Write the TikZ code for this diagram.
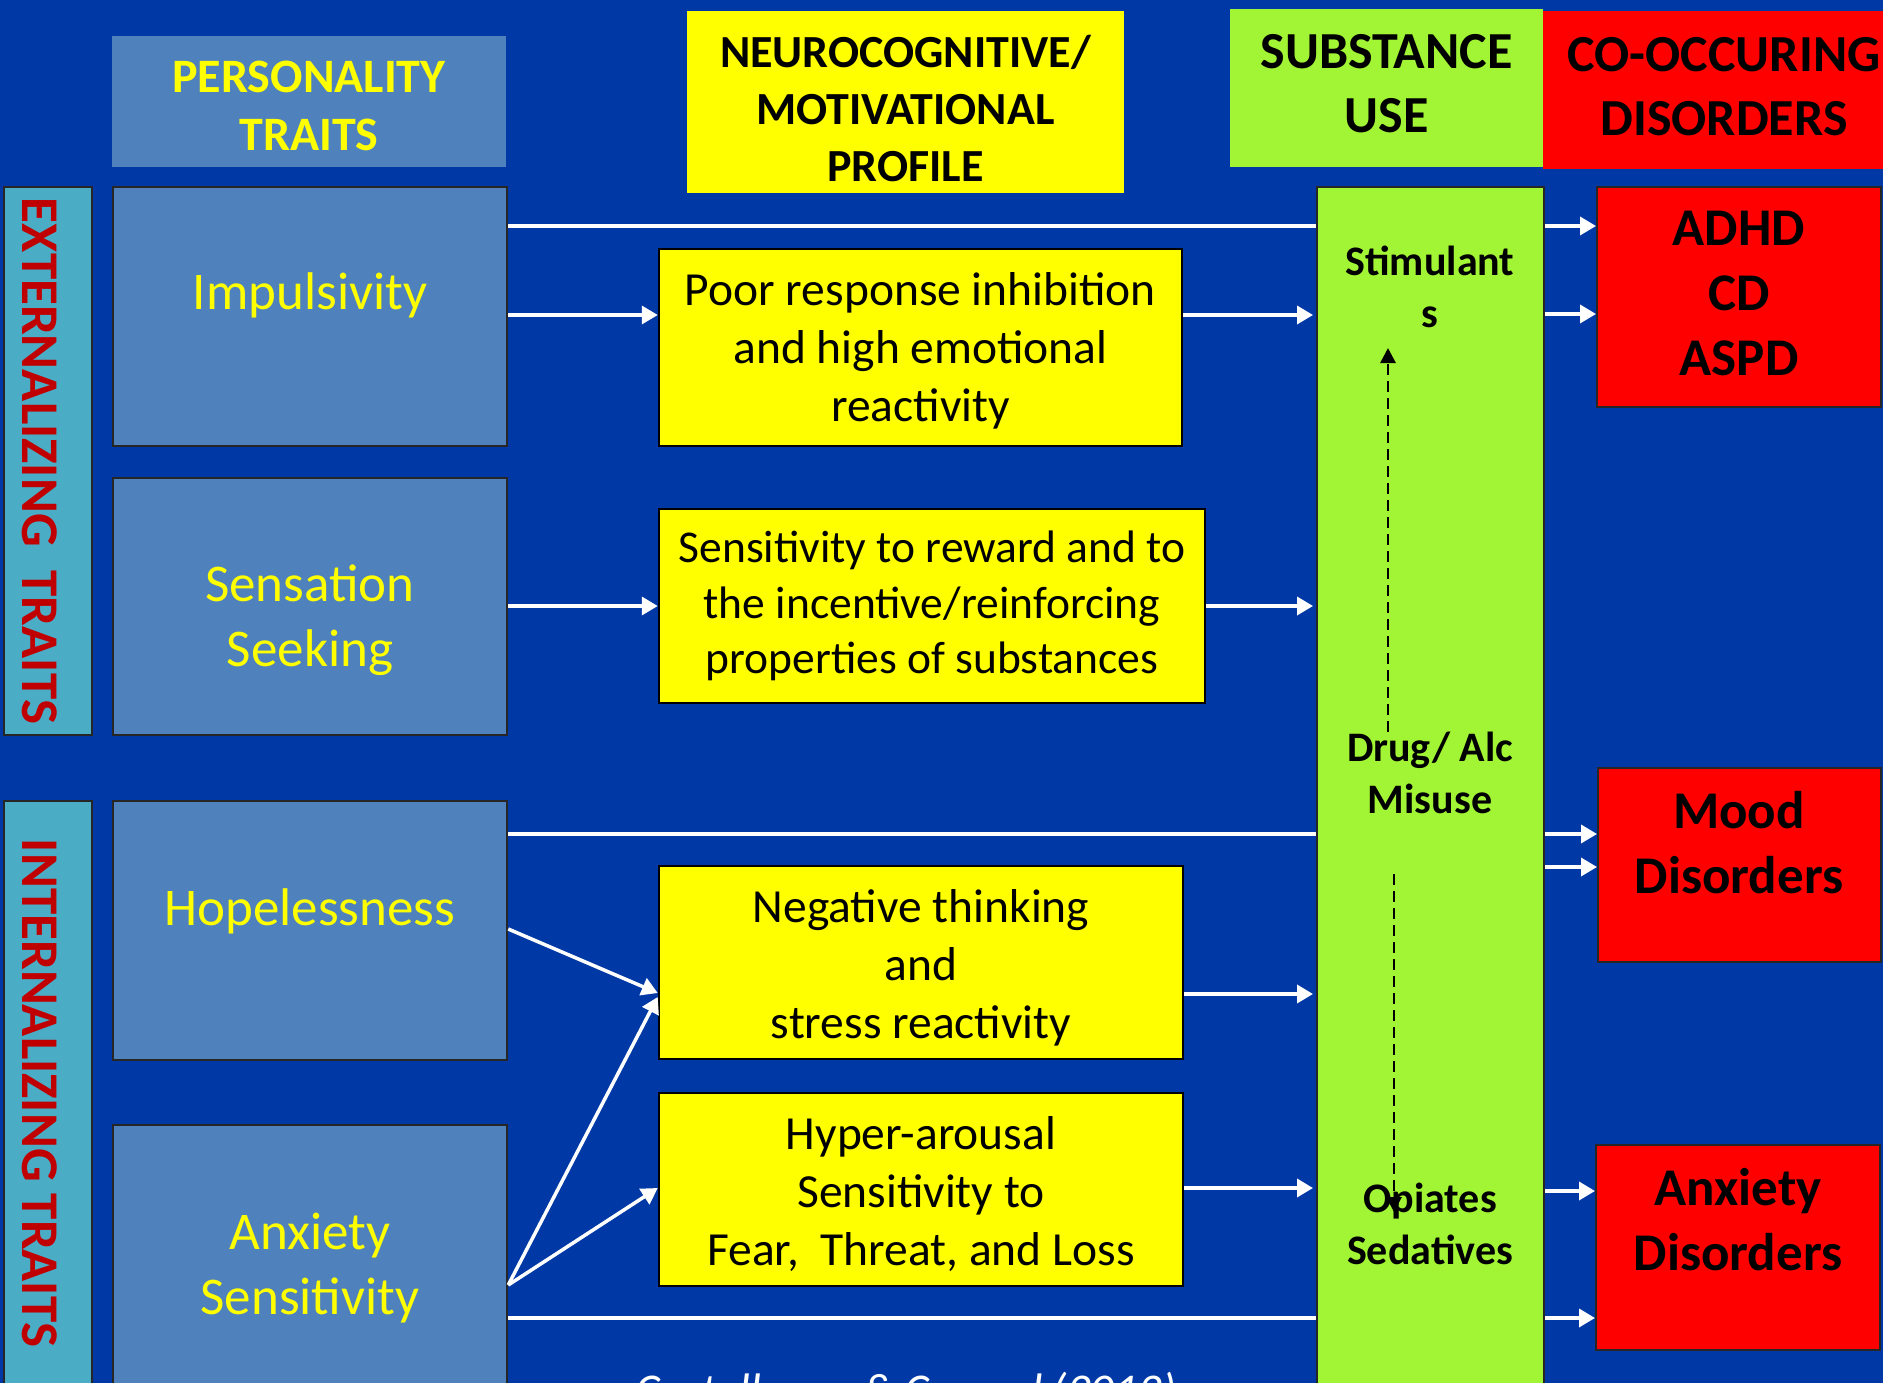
\documentclass[tikz,border=0pt]{standalone}
\usepackage{fontspec}
\setmainfont{Carlito}
\usetikzlibrary{arrows.meta}
\definecolor{bgblue}{RGB}{0,57,166}
\definecolor{steel}{RGB}{79,129,189}
\definecolor{tealbar}{RGB}{75,172,198}
\definecolor{ylw}{RGB}{255,255,0}
\definecolor{lime}{RGB}{162,245,52}
\definecolor{redbox}{RGB}{255,0,0}
\definecolor{darkred}{RGB}{192,0,0}
\pgfdeclarelayer{bg}
\pgfdeclarelayer{lines}
\pgfsetlayers{bg,lines,main}
\tikzset{
  box/.style={rectangle, inner sep=0pt},
  txt/.style={inner sep=0pt, align=center},
  headtext/.style={txt, font=\bfseries\fontsize{52}{64}\selectfont},
  sidebar/.style={box, fill=tealbar, draw=black!85, line width=2pt},
  sidetext/.style={inner sep=0pt, text=darkred, font=\bfseries\fontsize{53}{60}\selectfont},
  trait/.style={box, fill=steel, draw=black!85, line width=2.5pt},
  traittext/.style={txt, text=ylw, font=\fontsize{53}{65}\selectfont},
  profile/.style={box, fill=ylw, draw=black, line width=2.5pt},
  proftext/.style={txt, font=\fontsize{47.5}{58}\selectfont},
  disorder/.style={box, fill=redbox, draw=black!85, line width=2pt},
  distext/.style={txt, font=\bfseries\fontsize{53}{65}\selectfont},
  subtext/.style={txt, font=\bfseries\fontsize{42}{52}\selectfont},
  wline/.style={draw=white, line width=3.5pt, -{Triangle[length=16pt,width=18pt]}},
  dline/.style={draw=black, line width=2.8pt, dash pattern=on 11pt off 6pt, -{Triangle[length=15pt,width=15pt]}}
}
\begin{document}
\begin{tikzpicture}[x=1pt,y=-1pt]
\useasboundingbox (0,0) rectangle (1883,1383);
\begin{pgfonlayer}{bg}
\fill[bgblue] (0,0) rectangle (1883,1383);
\end{pgfonlayer}

% headers
\node[box, fill=steel, minimum width=394, minimum height=131] (ptH) at (309,101.5) {};
\node[headtext, text=ylw, font=\bfseries\fontsize{48}{58}\selectfont] (ptT) at (309,105.5) {PERSONALITY\\TRAITS};
\node[box, fill=ylw, minimum width=437, minimum height=182] (neuroH) at (905.5,102) {};
\node[headtext, font=\bfseries\fontsize{46}{57}\selectfont] (neuroT) at (905.5,109) {NEUROCOGNITIVE/\\MOTIVATIONAL\\PROFILE};
\node[box, fill=lime, minimum width=313, minimum height=158] (substH) at (1386.5,88) {};
\node[headtext] (substT) at (1386.5,84) {SUBSTANCE\\USE};
\node[box, fill=redbox, minimum width=362, minimum height=158] (coH) at (1724,90) {};
\node[headtext] (coT) at (1724,87) {CO-OCCURING\\DISORDERS};

% side bars
\node[sidebar, minimum width=88, minimum height=548] (extBar) at (48,461) {};
\node[sidetext, rotate=-90] (extT) at (39.5,461) {EXTERNALIZING\ \ TRAITS};
\node[sidebar, minimum width=88, minimum height=599] (intBar) at (48,1100.5) {};
\node[sidetext, rotate=-90] (intT) at (39.5,1093) {INTERNALIZING TRAITS};

% trait boxes
\node[trait, minimum width=394, minimum height=259] (imp) at (310,316.5) {};
\node[traittext] (impT) at (310,295) {Impulsivity};
\node[trait, minimum width=394, minimum height=257] (sens) at (310,606.5) {};
\node[traittext] (sensT) at (310,620.5) {Sensation\\Seeking};
\node[trait, minimum width=394, minimum height=259] (hope) at (310,930.5) {};
\node[traittext] (hopeT) at (310,911) {Hopelessness};
\node[trait, minimum width=394, minimum height=275] (anx) at (310,1262.5) {};
\node[traittext] (anxT) at (310,1268.5) {Anxiety\\Sensitivity};

% profile boxes
\node[profile, minimum width=523, minimum height=197] (poor) at (920.5,347.5) {};
\node[proftext] (poorT) at (920.5,350.5) {Poor response inhibition\\and high emotional\\reactivity};
\node[profile, minimum width=546, minimum height=194] (reward) at (932,606) {};
\node[proftext, font=\fontsize{45.5}{55.5}\selectfont] (rewardT) at (932,606) {Sensitivity to reward and to\\the incentive/reinforcing\\properties of substances};
\node[profile, minimum width=524, minimum height=193] (neg) at (921,962.5) {};
\node[proftext] (negT) at (921,967.5) {Negative thinking\\and\\stress reactivity};
\node[profile, minimum width=524, minimum height=193] (hyper) at (921,1189.5) {};
\node[proftext] (hyperT) at (921,1194.5) {Hyper-arousal\\Sensitivity to\\Fear,~ Threat, and Loss};

% substance column
\node[box, fill=lime, draw=black!85, line width=2pt, minimum width=227, minimum height=1213] (green) at (1430.5,793.5) {};
\node[subtext] (stimT) at (1430,287) {Stimulant\\s};
\node[subtext] (drugT) at (1430,773) {Drug/ Alc\\Misuse};
\node[subtext] (opT) at (1430,1224) {Opiates\\Sedatives};

% disorder boxes
\node[disorder, minimum width=284, minimum height=220] (adhd) at (1739,297) {};
\node[distext] (adhdT) at (1739,293) {ADHD\\CD\\ASPD};
\node[disorder, minimum width=283, minimum height=194] (mood) at (1739.5,865) {};
\node[distext] (moodT) at (1739,843) {Mood\\Disorders};
\node[disorder, minimum width=284, minimum height=205] (anxd) at (1738,1247.5) {};
\node[distext] (anxdT) at (1738,1220) {Anxiety\\Disorders};

% citation (cut off by the lower edge, as in the original)
\node[inner sep=0pt, anchor=base, text=white, font=\itshape\fontsize{47}{56}\selectfont] (cite) at (906,1406) {Castellanos \& Conrod (2012)};

% lines passing behind the substance column
\begin{pgfonlayer}{lines}
\draw[wline] (imp.east |- 0,226) -- (adhd.west |- 0,226);
\draw[wline] (hope.east |- 0,834) -- (mood.west |- 0,834);
\draw[wline] (anx.east |- 0,1318) -- (anxd.west |- 0,1318);
\end{pgfonlayer}

% arrows
\draw[wline] (imp.east |- 0,315) -- (poor.west |- 0,315);
\draw[wline, shorten >=3pt] (poor.east |- 0,315) -- (green.west |- 0,315);
\draw[wline] (green.east |- 0,314) -- (adhd.west |- 0,314);
\draw[wline] (sens.east |- 0,606) -- (reward.west |- 0,606);
\draw[wline, shorten >=3pt] (reward.east |- 0,606) -- (green.west |- 0,606);
\draw[wline] (hope.east |- 0,929) -- (neg.west |- 0,993);
\draw[wline] (anx.east |- 0,1285) -- (neg.west |- 0,997);
\draw[wline] (anx.east |- 0,1285) -- (hyper.west |- 0,1188);
\draw[wline, shorten >=3pt] (neg.east |- 0,994) -- (green.west |- 0,994);
\draw[wline, shorten >=3pt] (hyper.east |- 0,1188) -- (green.west |- 0,1188);
\draw[wline] (green.east |- 0,867) -- (mood.west |- 0,867);
\draw[wline] (green.east |- 0,1191) -- (anxd.west |- 0,1191);

% dashed arrows inside the substance column
\coordinate (upTip) at (1388,348);
\draw[dline] (drugT.north -| upTip) -- (upTip);
\coordinate (dnStart) at (1394,874);
\coordinate (dnTip) at (1394,1212);
\draw[dline] (dnStart) -- (dnTip);
\end{tikzpicture}
\end{document}
